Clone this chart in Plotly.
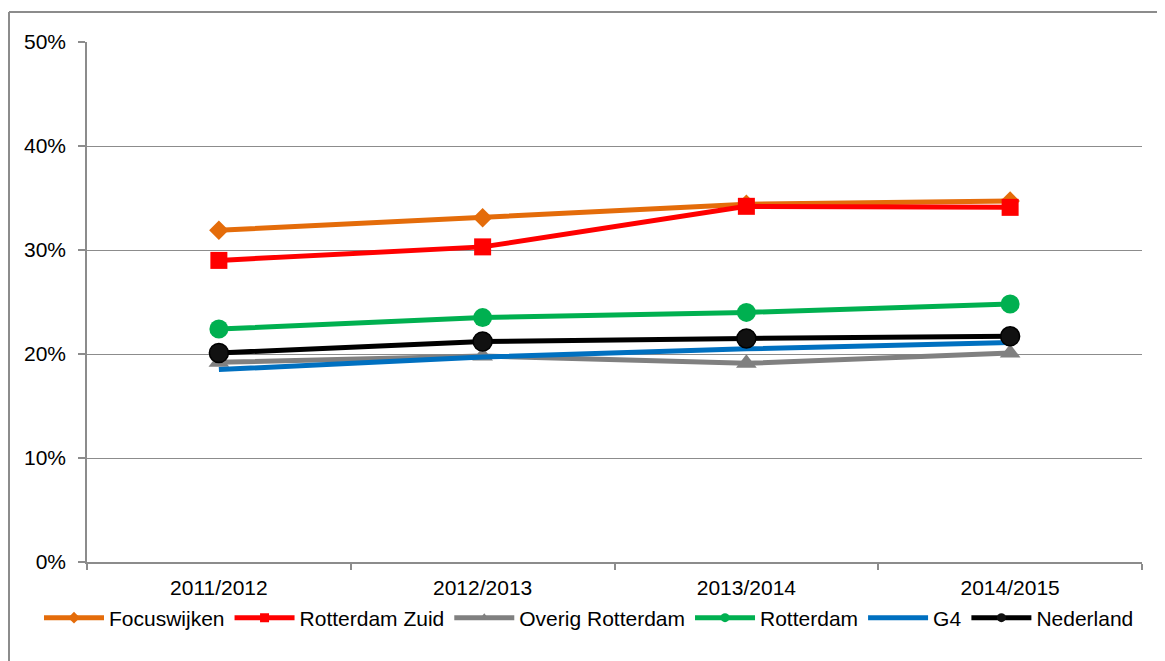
import plotly.graph_objects as go

categories = ["2011/2012", "2012/2013", "2013/2014", "2014/2015"]

focuswijken = [0.319, 0.331, 0.344, 0.347]
rotterdam_zuid = [0.290, 0.303, 0.342, 0.341]
overig_rotterdam = [0.192, 0.198, 0.191, 0.201]
rotterdam = [0.224, 0.235, 0.240, 0.248]
g4 = [0.185, 0.197, 0.205, 0.211]
nederland = [0.201, 0.212, 0.215, 0.217]

y_ticks = [0, 0.1, 0.2, 0.3, 0.4, 0.5]

series = [
    ("Focuswijken", focuswijken, "#E46C0A", dict(symbol="diamond", size=15)),
    ("Rotterdam Zuid", rotterdam_zuid, "#FF0000", dict(symbol="square", size=17)),
    ("Overig Rotterdam", overig_rotterdam, "#808080", dict(symbol="triangle-up", size=18)),
    ("Rotterdam", rotterdam, "#00B050", dict(symbol="circle", size=19)),
    ("G4", g4, "#0070C0", None),
    ("Nederland", nederland, "#000000", dict(symbol="circle", size=19)),
]

W, H = 1157, 653
ML, MR, MT, MB = 79, 23, 34, 99
PW, PH = W - ML - MR, H - MT - MB

fig = go.Figure()
for name, vals, color, mk in series:
    if mk is None:
        fig.add_trace(go.Scatter(x=categories, y=vals, name=name, mode="lines",
                                 line=dict(color=color, width=5), showlegend=False))
        fig.add_trace(go.Scatter(x=[None], y=[None], name=name, mode="lines",
                                 line=dict(color=color, width=5)))
    else:
        m = dict(mk)
        m["color"] = "#111111" if name == "Nederland" else color
        m["line"] = dict(color="#000000", width=1.5) if name == "Nederland" else dict(width=0)
        fig.add_trace(go.Scatter(x=categories, y=vals, name=name, mode="lines+markers",
                                 line=dict(color=color, width=5), marker=m, showlegend=False))
        lm = dict(m)
        lm["size"] = 9
        lm["line"] = dict(width=0)
        fig.add_trace(go.Scatter(x=[None], y=[None], name=name, mode="lines+markers",
                                 line=dict(color=color, width=5), marker=lm))

font = "Liberation Sans, Arial, sans-serif"
grid = "#8C8C8C"

fig.update_layout(
    width=W, height=H,
    paper_bgcolor="white", plot_bgcolor="white",
    margin=dict(l=ML, r=MR, t=MT, b=MB),
    font=dict(family=font, size=21, color="#000000"),
    showlegend=True,
    legend=dict(orientation="h", x=(31 - ML) / PW, xanchor="left",
                y=(H - MB - 610) / PH, yanchor="middle",
                font=dict(family=font, size=21, color="#000000"),
                itemwidth=60, tracegroupgap=0, traceorder="normal",
                bgcolor="rgba(0,0,0,0)"),
    xaxis=dict(type="category", range=[-0.5, 3.5], showgrid=False,
               showline=True, linecolor=grid, linewidth=1.5,
               ticks="outside", tickson="boundaries", ticklen=6, tickcolor=grid,
               tickwidth=1.5, tickfont=dict(size=21, color="#000000"),
               ticklabelstandoff=6),
    yaxis=dict(range=[0, 0.5], tickvals=y_ticks, tickformat=".0%",
               showgrid=True, gridcolor=grid, gridwidth=1.3,
               showline=True, linecolor=grid, linewidth=1.5,
               ticks="outside", ticklen=7, tickcolor=grid, tickwidth=1.5,
               tickfont=dict(size=21, color="#000000"), zeroline=False,
               ticklabelstandoff=8),
    shapes=[
        dict(type="line", xref="paper", yref="paper",
             x0=(1 - ML) / PW, x1=1.1, y0=(H - MB - 4) / PH, y1=(H - MB - 4) / PH,
             line=dict(color=grid, width=2)),
        dict(type="line", xref="paper", yref="paper",
             x0=(1 - ML) / PW, x1=(1 - ML) / PW, y0=(H - MB - 4) / PH, y1=-0.3,
             line=dict(color=grid, width=2)),
    ],
)

fig.write_html("out.html")
